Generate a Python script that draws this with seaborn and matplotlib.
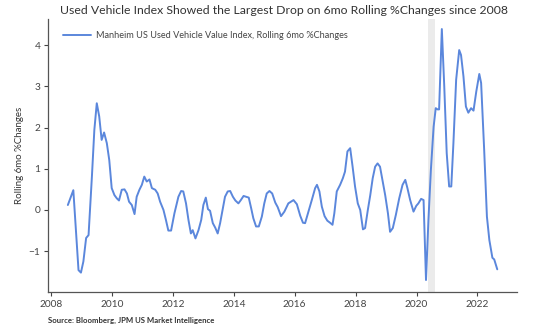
import matplotlib
matplotlib.use("Agg")
import matplotlib.pyplot as plt
import seaborn as sns
import pandas as pd

# ---- data ----
years = [
    2008.55, 2008.73, 2008.90, 2008.98, 2009.06, 2009.15, 2009.23, 2009.34, 2009.42, 2009.50,
    2009.58, 2009.66, 2009.74, 2009.83, 2009.91, 2009.99, 2010.08, 2010.16, 2010.23, 2010.32,
    2010.41, 2010.49, 2010.56, 2010.65, 2010.74, 2010.81, 2010.90, 2010.98, 2011.06, 2011.14,
    2011.23, 2011.31, 2011.42, 2011.50, 2011.58, 2011.69, 2011.77, 2011.85, 2011.94, 2012.05,
    2012.18, 2012.27, 2012.34, 2012.43, 2012.51, 2012.59, 2012.65, 2012.74, 2012.84, 2012.93,
    2013.00, 2013.08, 2013.15, 2013.22, 2013.31, 2013.39, 2013.47, 2013.55, 2013.63, 2013.71,
    2013.80, 2013.88, 2013.97, 2014.05, 2014.15, 2014.23, 2014.32, 2014.40, 2014.49, 2014.57,
    2014.64, 2014.73, 2014.82, 2014.92, 2015.00, 2015.08, 2015.17, 2015.26, 2015.36, 2015.44,
    2015.55, 2015.66, 2015.79, 2015.96, 2016.07, 2016.18, 2016.27, 2016.34, 2016.45, 2016.56,
    2016.67, 2016.73, 2016.81, 2016.89, 2016.98, 2017.07, 2017.16, 2017.24, 2017.30, 2017.38,
    2017.49, 2017.58, 2017.65, 2017.73, 2017.82, 2017.90, 2017.98, 2018.07, 2018.15, 2018.24,
    2018.31, 2018.40, 2018.48, 2018.56, 2018.64, 2018.72, 2018.80, 2018.88, 2018.97, 2019.06,
    2019.13, 2019.22, 2019.32, 2019.43, 2019.54, 2019.63, 2019.70, 2019.79, 2019.90, 2019.99,
    2020.06, 2020.15, 2020.23, 2020.31, 2020.39, 2020.47, 2020.56, 2020.63, 2020.69, 2020.74,
    2020.83, 2020.91, 2020.99, 2021.07, 2021.14, 2021.21, 2021.30, 2021.40, 2021.46, 2021.54,
    2021.62, 2021.70, 2021.79, 2021.87, 2021.96, 2022.06, 2022.12, 2022.22, 2022.31, 2022.39,
    2022.49, 2022.55, 2022.65,
]
values = [
    0.12, 0.48, -1.46, -1.52, -1.25, -0.68, -0.61, 0.81, 1.94, 2.59,
    2.27, 1.70, 1.88, 1.62, 1.21, 0.53, 0.36, 0.28, 0.23, 0.49,
    0.50, 0.40, 0.20, 0.12, -0.10, 0.32, 0.49, 0.61, 0.81, 0.69,
    0.74, 0.53, 0.49, 0.40, 0.20, 0.00, -0.24, -0.50, -0.50, -0.08,
    0.32, 0.46, 0.45, 0.16, -0.24, -0.57, -0.49, -0.69, -0.49, -0.24,
    0.12, 0.30, 0.02, -0.02, -0.32, -0.43, -0.57, -0.32, 0.00, 0.32,
    0.45, 0.46, 0.32, 0.23, 0.16, 0.24, 0.34, 0.32, 0.30, 0.04,
    -0.20, -0.40, -0.40, -0.16, 0.16, 0.40, 0.46, 0.40, 0.18, 0.07,
    -0.15, -0.04, 0.16, 0.24, 0.14, -0.14, -0.31, -0.32, -0.04, 0.24,
    0.53, 0.61, 0.45, 0.08, -0.15, -0.26, -0.31, -0.36, -0.08, 0.45,
    0.61, 0.77, 0.93, 1.42, 1.50, 1.05, 0.57, 0.16, 0.00, -0.47,
    -0.44, 0.00, 0.36, 0.77, 1.05, 1.13, 1.05, 0.73, 0.36, -0.08,
    -0.53, -0.44, -0.12, 0.28, 0.61, 0.73, 0.53, 0.24, -0.04, 0.10,
    0.16, 0.27, 0.24, -1.70, -0.24, 0.97, 2.02, 2.47, 2.44, 2.44,
    4.39, 2.99, 1.38, 0.57, 0.57, 1.62, 3.16, 3.88, 3.76, 3.24,
    2.51, 2.36, 2.47, 2.41, 2.87, 3.30, 3.08, 1.46, -0.16, -0.73,
    -1.16, -1.20, -1.44,
]
series_name = "Manheim US Used Vehicle Value Index, Rolling 6mo %Changes"
shade_start, shade_end = 2020.38, 2020.62
x_ticks = [2008, 2010, 2012, 2014, 2016, 2018, 2020, 2022]
y_ticks = [-1, 0, 1, 2, 3, 4]

title = "Used Vehicle Index Showed the Largest Drop on 6mo Rolling %Changes since 2008"
ylabel = "Rolling 6mo %Changes"
source = "Source: Bloomberg, JPM US Market Intelligence"

# ---- plotting ----
sns.set_theme(style="ticks")
plt.rcParams["font.family"] = ["Lato", "DejaVu Sans"]

df = pd.DataFrame({"year": years, "value": values, "series": series_name})

fig = plt.figure(figsize=(5.46, 3.36), dpi=100)
ax = fig.add_axes([0.088, 0.131, 0.859, 0.812])

ax.axvspan(shade_start, shade_end, color="#ebebeb", lw=0, zorder=0)
sns.lineplot(data=df, x="year", y="value", hue="series", palette=["#5b87dc"],
             sort=False, estimator=None, linewidth=1.4, ax=ax)

ax.set_xlim(2007.9, 2023.3)
ax.set_ylim(-1.99, 4.63)
ax.set_xticks(x_ticks)
ax.set_xticklabels([str(t) for t in x_ticks])
ax.set_yticks(y_ticks)
ax.set_xlabel("")
ax.set_ylabel(ylabel, fontsize=7, color="#333333", labelpad=3)
ax.tick_params(axis="both", labelsize=7.3, colors="#444444", length=3, width=0.8, pad=2.5)
for s in ["top", "right"]:
    ax.spines[s].set_visible(False)
for s in ["left", "bottom"]:
    ax.spines[s].set_color("#555555")
    ax.spines[s].set_linewidth(0.9)

leg = ax.legend(loc="upper left", bbox_to_anchor=(0.015, 0.985), frameon=False,
                fontsize=6.6, handlelength=3.0, handletextpad=0.6)
for t in leg.get_texts():
    t.set_color("#444444")

fig.text(0.52, 0.968, title, ha="center", va="center", fontsize=8.85, color="#333333")
fig.text(0.087, 0.045, source, ha="left", va="center", fontsize=5.6, fontweight="bold",
         color="#333333")

fig.savefig("out.png", dpi=100)
